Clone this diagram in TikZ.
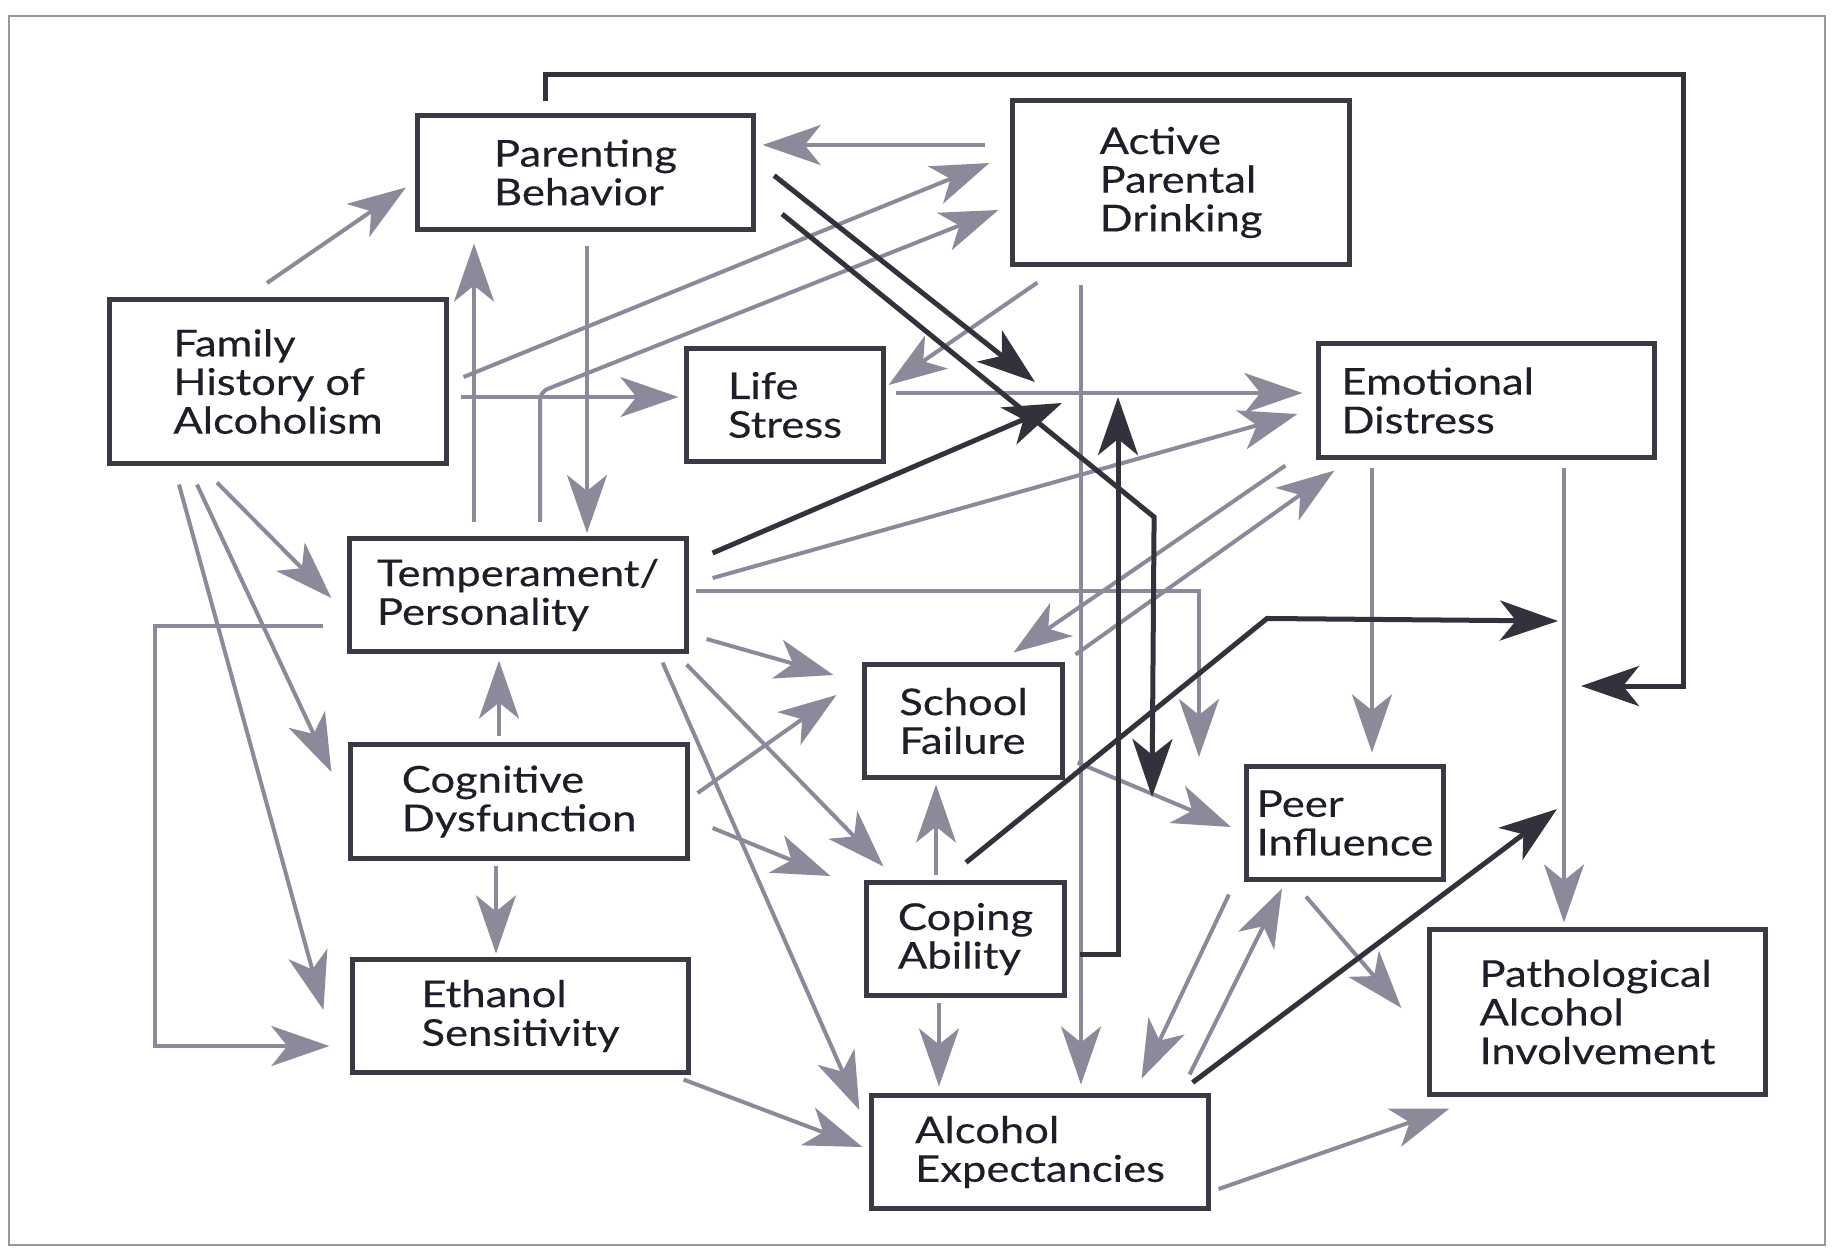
\documentclass[tikz,border=0pt]{standalone}
\usepackage{fontspec}
\setmainfont{Lato}[FakeStretch=1.18,FakeBold=0.3]
\usetikzlibrary{arrows.meta,calc}
\definecolor{boxline}{RGB}{58,58,68}
\definecolor{txt}{RGB}{30,30,40}
\definecolor{linegray}{RGB}{138,138,154}
\definecolor{linedark}{RGB}{50,50,60}
\definecolor{framegray}{RGB}{150,150,160}

\begin{document}
\begin{tikzpicture}[x=0.01cm,y=-0.01cm,
   >={Stealth[length=0.58cm,width=0.4cm,inset=0.16cm]},
   every node/.style={font=\fontsize{10.5}{11}\selectfont,text=txt},
   box/.style={draw=boxline,line width=0.05cm,fill=white,minimum width=3.36cm,
     minimum height=1.13cm,align=left,inner sep=0pt},
   sbox/.style={box,minimum width=1.97cm},
   tbox/.style={box,minimum height=1.64cm},
   garrow/.style={->,draw=linegray,line width=0.04cm},
   darrow/.style={->,draw=linedark,line width=0.05cm}]
  \useasboundingbox (0,0) rectangle (1836,1250);
  \draw[framegray,line width=0.025cm] (9,16) rectangle (1825,1245);

  % boxes
  \node (par) [box] at (585.5,172.5) {Parenting\\Behavior};
  \node (apd) [tbox] at (1181,182.5) {Active\\Parental\\Drinking};
  \node (fam) [tbox] at (278,381.5) {Family\\History of\\Alcoholism};
  \node (lst) [sbox] at (785,405) {Life\\Stress};
  \node (emo) [box,text width=2.9cm] at (1486.5,400.5) {Emotional\\Distress};
  \node (tem) [box] at (518,595) {Temperament/\\Personality};
  \node (sch) [sbox] at (963.5,721) {School\\Failure};
  \node (cog) [box] at (519,801.5) {Cognitive\\Dysfunction};
  \node (cop) [sbox] at (965.5,939) {Coping\\Ability};
  \node (peer) [sbox] at (1345,823) {Peer\\Influence};
  \node (eth) [box] at (520.5,1016) {Ethanol\\Sensitivity};
  \node (aex) [box] at (1040,1152) {Alcohol\\Expectancies};
  \node (pat) [tbox] at (1597.5,1012) {Pathological\\Alcohol\\Involvement};

  % points on paths that the dark arrows aim at
  \coordinate (onLS1) at (1035,382);
  \coordinate (onLS2) at (1062,403);
  \coordinate (onLS3) at (1118,397);
  \coordinate (onSP) at (1152,797);
  \coordinate (nearPeer) at (1199,757);
  \coordinate (onEP1) at (1558,621);
  \coordinate (onEP2) at (1557,809);
  \coordinate (onEP3) at (1581,686);

  % grey paths
  \draw[garrow] ($(fam.north)+(-11,-14)$) -- ($(par.west)+(-9,15)$);
  \draw[garrow] ($(par.south)+(1.5,14)$) -- ($(tem.north)+(69,-3)$);
  \draw[garrow] ($(tem.north)+(-44,-14)$) -- ($(par.south)+(-111.5,12)$);
  \draw[garrow] ($(fam.east)+(12,15.5)$) -- ($(lst.west)+(-5.5,-8)$);
  \draw[garrow] ($(fam.east)+(15,-4.5)$) -- ($(apd.west)+(-21,-19.5)$);
  \draw[garrow,rounded corners=0.08cm] ($(tem.north)+(22,-14)$) -- ++(0,-130)
    -- ($(apd.west)+(-12,27.5)$);
  \draw[garrow] ($(apd.west)+(-25,-37.5)$) -- ($(par.east)+(6.5,-27.5)$);
  \draw[garrow] ($(apd.south west)+(27,15.5)$) -- ($(lst.east)+(2.5,-20)$);
  \draw[garrow] ($(lst.east)+(9.5,-12)$) -- ($(emo.west)+(-13.5,-7.5)$);
  \draw[garrow] ($(tem.east)+(24,-17)$) -- ($(emo.west)+(-18.5,13.5)$);
  \draw[garrow] ($(tem.east)+(7,-4)$) -| (nearPeer);
  \draw[garrow] ($(emo.south)+(-114.5,8)$) -- ($(peer.north)+(27,-11.5)$);
  \draw[garrow] ($(emo.south)+(77.5,8)$) -- ($(pat.north)+(-33.5,-5)$);
  \draw[garrow] ($(emo.south west)+(-30.5,6)$) -- ($(sch.north east)+(-51,-9.5)$);
  \draw[garrow] ($(sch.north east)+(11,-7.5)$) -- ($(emo.south west)+(18.5,11)$);
  \draw[garrow] ($(cop.north)+(-29.5,-4.5)$) -- ($(sch.south)+(-27.5,4.5)$);
  \draw[garrow] ($(cop.south)+(-26.5,4.5)$) -- ($(aex.north)+(-101,-6.5)$);
  \draw[garrow] ($(apd.south)+(-100,17.5)$) -- ($(aex.north)+(41,-8.5)$);
  \draw[garrow] ($(sch.south east)+(13,-17.5)$) -- ($(peer.west)+(-13,4)$);
  \draw[garrow] ($(aex.north east)+(-21,-18.5)$) -- ($(peer.south)+(-63,6.5)$);
  \draw[garrow] ($(peer.south west)+(-15,12.5)$) -- ($(aex.north east)+(-69,-14.5)$);
  \draw[garrow] ($(peer.south)+(-39,14.5)$) -- ($(pat.west)+(-25.5,-4)$);
  \draw[garrow] ($(aex.east)+(8,37)$) -- ($(pat.south west)+(22.5,12)$);
  \draw[garrow] ($(fam.south)+(-61,16.5)$) -- ($(tem.west)+(-16,3)$);
  \draw[garrow] ($(fam.south)+(-81,18.5)$) -- ($(cog.west)+(-17,-29.5)$);
  \draw[garrow] ($(fam.south)+(-99,18.5)$) -- ($(eth.west)+(-26.5,-6)$);
  \draw[garrow] ($(tem.west)+(-24,31)$) -- ++(-168,0) |- ($(eth.west)+(-20.5,30)$);
  \draw[garrow] ($(cog.north)+(-20,-6)$) -- ($(tem.south)+(-19,6.5)$);
  \draw[garrow] ($(cog.south)+(-23,5)$) -- ($(eth.north)+(-24.5,-3.5)$);
  \draw[garrow] ($(cog.east)+(8,-8.5)$) -- ($(sch.west)+(-26,-26)$);
  \draw[garrow] ($(cog.east)+(23,26.5)$) -- ($(cop.west)+(-34,-63)$);
  \draw[garrow] ($(tem.east)+(18,44)$) -- ($(sch.west)+(-29,-46)$);
  \draw[garrow] ($(tem.south east)+(-2,10.5)$) -- ($(cop.north west)+(19,-13.5)$);
  \draw[garrow] ($(tem.south east)+(-26,8.5)$) -- ($(aex.west)+(-10,-42)$);
  \draw[garrow] ($(eth.south east)+(-7.5,4.5)$) -- ($(aex.west)+(-7,-5)$);

  % dark paths
  \draw[darrow] ($(par.east)+(18,3)$) -- (onLS1);
  \draw[darrow] ($(par.east)+(26,41.5)$) -- ++(372,303) -- (onSP);
  \draw[darrow] ($(tem.east)+(24,-42)$) -- (onLS2);
  \draw[darrow] ($(cop.north)+(0.5,-17.5)$) -- ++(301,-244) -- (onEP1);
  \draw[darrow] ($(cop.east)+(13,15)$) -| (onLS3);
  \draw[darrow] ($(aex.north east)+(-18,-10.5)$) -- (onEP2);
  \draw[darrow] ($(par.north)+(-40,-12)$) -- ++(0,-27) -- ++(1138,0) |- (onEP3);
\end{tikzpicture}
\end{document}
